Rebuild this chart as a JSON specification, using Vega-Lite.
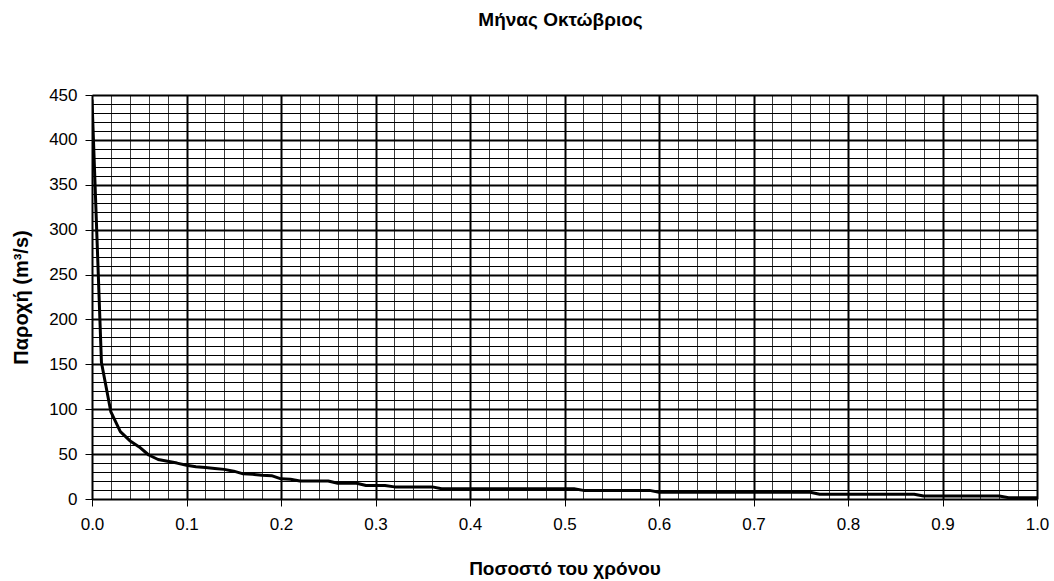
{
  "$schema": "https://vega.github.io/schema/vega-lite/v6.json",
  "width": 945,
  "height": 404,
  "autosize": {"type": "none"},
  "padding": {"left": 92, "top": 95, "right": 17, "bottom": 82},
  "background": "white",
  "title": {
    "text": "Μήνας Οκτώβριος",
    "font": "Liberation Sans",
    "fontSize": 19,
    "fontWeight": "bold",
    "color": "black",
    "anchor": "middle",
    "offset": 56,
    "dx": -4
  },
  "config": {
    "view": {"stroke": "#808080", "strokeWidth": 1},
    "axis": {
      "labelFont": "Liberation Sans",
      "titleFont": "Liberation Sans",
      "labelColor": "black",
      "titleColor": "black",
      "domainColor": "black",
      "tickColor": "black",
      "gridColor": "black",
      "gridOpacity": 1
    }
  },
  "data": {
    "values": [
      {"p": 0, "q": 445},
      {"p": 0.01, "q": 152},
      {"p": 0.02, "q": 97},
      {"p": 0.03, "q": 75},
      {"p": 0.04, "q": 65},
      {"p": 0.05, "q": 58},
      {"p": 0.06, "q": 49},
      {"p": 0.07, "q": 44},
      {"p": 0.08, "q": 42},
      {"p": 0.09, "q": 40},
      {"p": 0.10, "q": 37.5},
      {"p": 0.11, "q": 36},
      {"p": 0.12, "q": 35},
      {"p": 0.13, "q": 34},
      {"p": 0.14, "q": 33},
      {"p": 0.15, "q": 31},
      {"p": 0.16, "q": 28},
      {"p": 0.17, "q": 27.5},
      {"p": 0.18, "q": 26.5},
      {"p": 0.19, "q": 26},
      {"p": 0.20, "q": 22.5},
      {"p": 0.21, "q": 22},
      {"p": 0.22, "q": 20},
      {"p": 0.25, "q": 20},
      {"p": 0.26, "q": 17.5},
      {"p": 0.28, "q": 17.5},
      {"p": 0.29, "q": 15},
      {"p": 0.31, "q": 15},
      {"p": 0.32, "q": 13.5},
      {"p": 0.36, "q": 13.5},
      {"p": 0.37, "q": 11.5},
      {"p": 0.51, "q": 11.5},
      {"p": 0.52, "q": 9.6},
      {"p": 0.59, "q": 9.6},
      {"p": 0.60, "q": 7.6},
      {"p": 0.76, "q": 7.5},
      {"p": 0.77, "q": 5.2},
      {"p": 0.87, "q": 5.2},
      {"p": 0.88, "q": 3.3},
      {"p": 0.96, "q": 3.3},
      {"p": 0.97, "q": 1.5},
      {"p": 1.0, "q": 1.5}
    ]
  },
  "mark": {"type": "line", "color": "black", "strokeWidth": 3, "strokeJoin": "round", "clip": true},
  "encoding": {
    "x": {
      "field": "p",
      "type": "quantitative",
      "scale": {"domain": [0, 1], "nice": false},
      "axis": {
        "title": "Ποσοστό του χρόνου",
        "titleFontSize": 19,
        "titleFontWeight": "bold",
        "titleBaseline": "alphabetic",
        "titleY": 75,
        "values": [0,0.02,0.04,0.06,0.08,0.1,0.12,0.14,0.16,0.18,0.2,0.22,0.24,0.26,0.28,0.3,0.32,0.34,0.36,0.38,0.4,0.42,0.44,0.46,0.48,0.5,0.52,0.54,0.56,0.58,0.6,0.62,0.64,0.66,0.68,0.7,0.72,0.74,0.76,0.78,0.8,0.82,0.84,0.86,0.88,0.9,0.92,0.94,0.96,0.98,1],
        "labelExpr": "round(datum.value*100) % 10 == 0 ? format(datum.value, '.1f') : ''",
        "labelOverlap": false,
        "labelFlush": false,
        "labelFontSize": 17,
        "labelPadding": 10,
        "tickSize": 7,
        "tickOpacity": {"condition": {"test": "round(datum.value*100) % 10 == 0", "value": 1}, "value": 0},
        "grid": true,
        "gridWidth": {"condition": {"test": "round(datum.value*100) % 10 == 0", "value": 2}, "value": 1},
        "gridColor": {"condition": {"test": "round(datum.value*100) % 10 == 0", "value": "black"}, "value": "#3a3a3a"}
      }
    },
    "y": {
      "field": "q",
      "type": "quantitative",
      "scale": {"domain": [0, 450], "nice": false},
      "axis": {
        "title": "Παροχή (m³/s)",
        "titleFontSize": 20,
        "titleFontWeight": "bold",
        "titleBaseline": "alphabetic",
        "titleX": -65,
        "values": [0,10,20,30,40,50,60,70,80,90,100,110,120,130,140,150,160,170,180,190,200,210,220,230,240,250,260,270,280,290,300,310,320,330,340,350,360,370,380,390,400,410,420,430,440,450],
        "labelExpr": "datum.value % 50 == 0 ? format(datum.value, 'd') : ''",
        "labelOverlap": false,
        "labelFlush": false,
        "labelFontSize": 17,
        "labelPadding": 8,
        "tickSize": 7,
        "tickOpacity": {"condition": {"test": "datum.value % 50 == 0", "value": 1}, "value": 0},
        "grid": true,
        "gridWidth": {"condition": {"test": "datum.value % 50 == 0", "value": 2}, "value": 1},
        "gridColor": "black"
      }
    }
  }
}
